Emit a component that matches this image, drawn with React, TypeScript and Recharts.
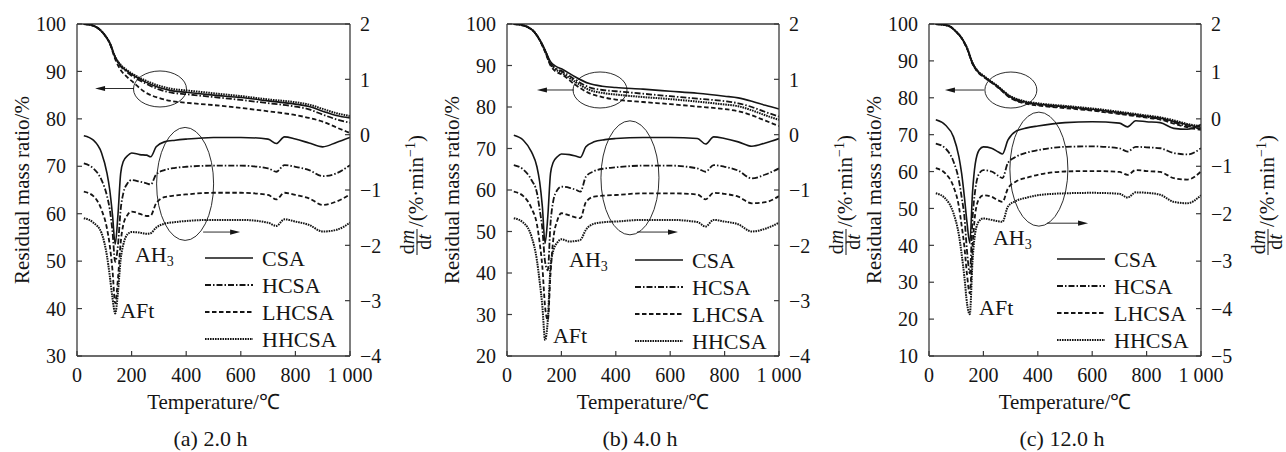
import React from 'react';
import { LineChart, Line, XAxis, YAxis, ReferenceDot, ReferenceLine, Legend, Label } from 'recharts';

const FONT = '"Liberation Serif", "Times New Roman", serif';
const INK = '#151515';
const AXIS = '#3a3a3a';

// ---------- shared ----------
const seriesNames = ['CSA', 'HCSA', 'LHCSA', 'HHCSA'];
const xTicks = [0, 200, 400, 600, 800, 1000];
const tgTemps = [25, 50, 75, 100, 120, 140, 160, 180, 200, 250, 300, 350, 400, 500, 600, 700, 800, 850, 900, 950, 1000];
const dtgTemps = [25, 60, 90, 110, 120, 130, 140, 150, 160, 170, 185, 200, 230, 255, 270, 290, 320, 360, 400, 500, 600, 700, 730, 760, 800, 850, 900, 950, 1000];

// ---------- panel (a) 2.0 h ----------
const aLeftTicks = [30, 40, 50, 60, 70, 80, 90, 100];
const aRightTicks = [-4, -3, -2, -1, 0, 1, 2];
const aTgCSA = [100, 99.8, 99.2, 97.8, 96.0, 93.0, 91.2, 90.2, 89.4, 87.8, 86.6, 85.9, 85.6, 85.0, 84.5, 83.8, 83.1, 82.6, 81.6, 80.7, 80.2];
const aTgHCSA = [100, 99.8, 99.2, 97.8, 96.0, 93.0, 91.1, 90.0, 89.1, 87.5, 86.2, 85.5, 85.2, 84.6, 84.0, 83.3, 82.6, 82.0, 80.9, 79.9, 79.2];
const aTgLHCSA = [100, 99.8, 99.2, 97.8, 95.9, 92.6, 90.3, 89.0, 88.0, 85.6, 84.4, 83.7, 83.4, 82.9, 82.3, 81.6, 80.8, 80.2, 79.4, 78.2, 77.0];
const aTgHHCSA = [100, 99.8, 99.2, 97.8, 96.0, 93.0, 91.4, 90.4, 89.6, 88.1, 87.0, 86.3, 86.0, 85.4, 84.8, 84.1, 83.5, 83.0, 82.1, 81.2, 80.6];
const aDtgCSA = [-0.02, -0.10, -0.33, -0.70, -1.00, -1.45, -1.98, -1.45, -0.70, -0.48, -0.38, -0.33, -0.36, -0.37, -0.40, -0.22, -0.13, -0.10, -0.08, -0.05, -0.05, -0.08, -0.16, -0.04, -0.08, -0.15, -0.22, -0.14, -0.05];
const aDtgHCSA = [-0.52, -0.61, -0.82, -1.11, -1.35, -1.75, -2.30, -2.00, -1.35, -1.05, -0.88, -0.82, -0.85, -0.88, -0.90, -0.72, -0.64, -0.60, -0.58, -0.56, -0.56, -0.61, -0.67, -0.55, -0.58, -0.64, -0.75, -0.70, -0.55];
const aDtgLHCSA = [-1.03, -1.11, -1.36, -1.70, -2.00, -2.45, -3.05, -2.60, -1.95, -1.62, -1.45, -1.39, -1.43, -1.47, -1.46, -1.24, -1.13, -1.10, -1.08, -1.05, -1.05, -1.09, -1.17, -1.05, -1.09, -1.15, -1.27, -1.21, -1.08];
const aDtgHHCSA = [-1.51, -1.59, -1.78, -2.20, -2.55, -2.95, -3.23, -2.85, -2.25, -1.98, -1.80, -1.76, -1.77, -1.79, -1.78, -1.68, -1.61, -1.58, -1.56, -1.54, -1.54, -1.59, -1.65, -1.53, -1.57, -1.63, -1.75, -1.72, -1.59];

// ---------- panel (b) 4.0 h ----------
const bLeftTicks = [20, 30, 40, 50, 60, 70, 80, 90, 100];
const bRightTicks = [-4, -3, -2, -1, 0, 1, 2];
const bTgCSA = [100, 99.8, 99.3, 98.1, 96.2, 93.7, 90.9, 89.8, 89.2, 87.3, 85.7, 85.0, 84.7, 84.3, 83.8, 83.3, 82.6, 82.2, 81.4, 80.4, 79.5];
const bTgHCSA = [100, 99.8, 99.3, 98.1, 96.2, 93.6, 90.6, 89.3, 88.7, 86.6, 84.8, 84.1, 83.8, 83.2, 82.6, 82.0, 81.4, 80.9, 80.0, 78.8, 77.7];
const bTgLHCSA = [100, 99.8, 99.3, 98.1, 96.1, 93.3, 90.0, 88.5, 87.9, 85.4, 83.4, 82.4, 81.8, 81.2, 80.7, 80.1, 79.5, 79.0, 78.0, 76.7, 75.4];
const bTgHHCSA = [100, 99.8, 99.3, 98.1, 96.2, 93.5, 90.3, 89.0, 88.3, 86.1, 84.2, 83.4, 83.0, 82.4, 81.9, 81.3, 80.6, 80.2, 79.2, 78.0, 76.9];
const bDtgCSA = [-0.01, -0.10, -0.31, -0.58, -0.85, -1.30, -1.96, -1.48, -0.70, -0.50, -0.40, -0.35, -0.36, -0.39, -0.41, -0.22, -0.13, -0.09, -0.07, -0.05, -0.05, -0.07, -0.17, -0.04, -0.07, -0.13, -0.21, -0.15, -0.07];
const bDtgHCSA = [-0.55, -0.63, -0.82, -1.05, -1.35, -1.70, -2.30, -2.45, -1.60, -1.20, -1.00, -0.94, -0.96, -1.00, -1.03, -0.76, -0.66, -0.61, -0.59, -0.56, -0.56, -0.61, -0.67, -0.55, -0.58, -0.65, -0.79, -0.72, -0.61];
const bDtgLHCSA = [-1.03, -1.11, -1.33, -1.62, -1.95, -2.39, -3.11, -3.35, -2.51, -1.90, -1.55, -1.42, -1.46, -1.50, -1.51, -1.22, -1.12, -1.10, -1.09, -1.06, -1.06, -1.08, -1.17, -1.05, -1.07, -1.12, -1.24, -1.22, -1.11];
const bDtgHHCSA = [-1.51, -1.59, -1.84, -2.27, -2.65, -3.10, -3.71, -3.35, -2.39, -2.10, -1.95, -1.89, -1.93, -1.92, -1.90, -1.72, -1.61, -1.58, -1.57, -1.54, -1.54, -1.58, -1.66, -1.54, -1.57, -1.62, -1.75, -1.70, -1.59];

// ---------- panel (c) 12.0 h ----------
const cLeftTicks = [10, 20, 30, 40, 50, 60, 70, 80, 90, 100];
const cRightTicks = [-5, -4, -3, -2, -1, 0, 1, 2];
const cTgCSA = [100, 99.8, 99.4, 97.9, 96.2, 93.5, 89.4, 87.1, 85.9, 83.2, 80.2, 78.9, 78.3, 77.6, 76.9, 76.0, 75.0, 74.5, 73.6, 72.7, 72.0];
const cTgHCSA = [100, 99.8, 99.4, 97.9, 96.2, 93.4, 89.3, 87.0, 85.8, 83.1, 80.0, 78.7, 78.1, 77.4, 76.7, 75.8, 74.8, 74.3, 73.3, 72.3, 71.6];
const cTgLHCSA = [100, 99.8, 99.4, 97.9, 96.1, 93.3, 89.2, 86.9, 85.7, 83.0, 79.9, 78.5, 77.9, 77.2, 76.5, 75.6, 74.6, 74.1, 73.0, 72.0, 71.3];
const cTgHHCSA = [100, 99.8, 99.4, 97.9, 96.2, 93.5, 89.5, 87.2, 86.0, 83.3, 80.4, 79.1, 78.5, 77.8, 77.1, 76.2, 75.2, 74.7, 73.9, 72.9, 72.3];
const cDtgCSA = [-0.02, -0.13, -0.38, -0.80, -1.15, -1.64, -2.20, -2.62, -1.55, -0.95, -0.65, -0.59, -0.62, -0.70, -0.74, -0.45, -0.26, -0.19, -0.15, -0.08, -0.06, -0.09, -0.17, -0.04, -0.06, -0.08, -0.20, -0.22, -0.12];
const cDtgHCSA = [-0.52, -0.62, -0.90, -1.30, -1.65, -2.06, -2.80, -3.26, -2.10, -1.50, -1.15, -1.08, -1.11, -1.20, -1.25, -0.93, -0.80, -0.71, -0.66, -0.59, -0.58, -0.62, -0.69, -0.59, -0.60, -0.62, -0.72, -0.75, -0.62];
const cDtgLHCSA = [-1.04, -1.15, -1.43, -1.85, -2.25, -2.69, -3.30, -3.68, -2.70, -2.00, -1.68, -1.61, -1.64, -1.72, -1.75, -1.47, -1.32, -1.24, -1.18, -1.11, -1.10, -1.12, -1.18, -1.08, -1.10, -1.12, -1.25, -1.28, -1.11];
const cDtgHHCSA = [-1.57, -1.68, -1.99, -2.45, -2.85, -3.33, -3.90, -4.12, -3.00, -2.40, -2.15, -2.10, -2.13, -2.16, -2.17, -1.85, -1.73, -1.66, -1.61, -1.57, -1.56, -1.58, -1.66, -1.55, -1.56, -1.60, -1.75, -1.78, -1.61];

// ---------- styles ----------
const dashes: Record<string, string | undefined> = {
  CSA: undefined,
  HCSA: '6 2 1.5 2',
  LHCSA: '4.5 2.5',
  HHCSA: '1.6 0.9',
};
const widths: Record<string, number> = { CSA: 1.6, HCSA: 1.8, LHCSA: 1.8, HHCSA: 2 };

const toPoints = (xs: number[], ys: number[]) => xs.map((t, i) => ({ t, v: ys[i] }));
const fmt = (v: number) => (v === 1000 ? '1 000' : v < 0 ? '\u2212' + Math.abs(v) : String(v));

// ---------- ticks ----------
const LeftTick = (p: any) => (
  <g>
    <line x1={p.x} x2={p.x + 5} y1={p.y} y2={p.y} stroke={AXIS} strokeWidth={1.2} />
    <text x={p.x - 11} y={p.y} dy="0.36em" textAnchor="end" fontSize={20} fontFamily={FONT} fill={INK}>
      {fmt(p.payload.value)}
    </text>
  </g>
);
const RightTick = (p: any) => (
  <g>
    <line x1={p.x - 5} x2={p.x} y1={p.y} y2={p.y} stroke={AXIS} strokeWidth={1.2} />
    <text x={p.x + 10} y={p.y} dy="0.36em" textAnchor="start" fontSize={20} fontFamily={FONT} fill={INK}>
      {fmt(p.payload.value)}
    </text>
  </g>
);
const BottomTick = (p: any) => (
  <g>
    <line x1={p.x} x2={p.x} y1={p.y - 5} y2={p.y} stroke={AXIS} strokeWidth={1.2} />
    <text x={p.x} y={p.y + 26} textAnchor="middle" fontSize={20} fontFamily={FONT} fill={INK}>
      {fmt(p.payload.value)}
    </text>
  </g>
);

// ---------- annotation shapes ----------
const ellipseShape = (rx: number, ry: number) => (p: any) => (
  <ellipse cx={p.cx} cy={p.cy} rx={rx} ry={ry} fill="none" stroke={INK} strokeWidth={0.9} />
);
const arrowShape = (len: number, dir: number) => (p: any) => {
  const x2 = p.cx + dir * len;
  return (
    <g>
      <line x1={p.cx} y1={p.cy} x2={x2 - dir * 7} y2={p.cy} stroke={INK} strokeWidth={0.9} />
      <polygon points={`${x2},${p.cy} ${x2 - dir * 10},${p.cy - 2.6} ${x2 - dir * 10},${p.cy + 2.6}`} fill={INK} />
    </g>
  );
};
const ah3Shape = (p: any) => (
  <text x={p.cx} y={p.cy} fontSize={22} fontFamily={FONT} fill={INK}>
    AH<tspan fontSize={14} dy={4}>3</tspan>
  </text>
);
const aftShape = (p: any) => (
  <text x={p.cx} y={p.cy} fontSize={22} fontFamily={FONT} fill={INK}>AFt</text>
);

const LegendBox = () => (
  <svg width={150} height={112} style={{ display: 'block', overflow: 'visible' }}>
    {seriesNames.map((n, i) => (
      <g key={n}>
        <line x1={0} x2={48} y1={13 + 27 * i} y2={13 + 27 * i} stroke={INK} strokeWidth={widths[n]} strokeDasharray={dashes[n]} />
        <text x={57} y={13 + 27 * i} dy="0.36em" fontSize={22} fontFamily={FONT} fill={INK}>{n}</text>
      </g>
    ))}
  </svg>
);

// ---------- panels ----------
const panels = [
  {
    key: 'a', left: 0, width: 450, plotLeft: 77, plotRight: 350,
    leftDomain: [30, 100], leftTicks: aLeftTicks, rightDomain: [-4, 2], rightTicks: aRightTicks,
    tg: [aTgCSA, aTgHCSA, aTgLHCSA, aTgHHCSA], dtg: [aDtgCSA, aDtgHCSA, aDtgLHCSA, aDtgHHCSA],
    caption: '(a) 2.0 h', legendLeft: 205, legendTop: 245,
    ell1: [304, 86.3, 26.5, 18], arrL: [209, 86.4, 39], ell2: [396, -0.89, 28.5, 56.5], arrR: [462, -1.76, 37],
    ah3: [212, 49.8], aft: [158, 38.0],
  },
  {
    key: 'b', left: 430, width: 450, plotLeft: 77, plotRight: 349,
    leftDomain: [20, 100], leftTicks: bLeftTicks, rightDomain: [-4, 2], rightTicks: bRightTicks,
    tg: [bTgCSA, bTgHCSA, bTgLHCSA, bTgHHCSA], dtg: [bDtgCSA, bDtgHCSA, bDtgLHCSA, bDtgHHCSA],
    caption: '(b) 4.0 h', legendLeft: 205, legendTop: 247,
    ell1: [342, 84.1, 27, 18], arrL: [246, 84.1, 37], ell2: [452, -0.78, 29, 57], arrR: [478, -1.76, 41],
    ah3: [228, 41.4], aft: [169, 23.1],
  },
  {
    key: 'c', left: 860, width: 426, plotLeft: 69, plotRight: 341,
    leftDomain: [10, 100], leftTicks: cLeftTicks, rightDomain: [-5, 2], rightTicks: cRightTicks,
    tg: [cTgCSA, cTgHCSA, cTgLHCSA, cTgHHCSA], dtg: [cDtgCSA, cDtgHCSA, cDtgLHCSA, cDtgHHCSA],
    caption: '(c) 12.0 h', legendLeft: 197, legendTop: 246,
    ell1: [301, 82.1, 26, 18], arrL: [202, 82.1, 39], ell2: [404, -1.06, 29, 57], arrR: [434, -2.2, 41],
    ah3: [235, 40.1], aft: [184, 21.1],
  },
];

const HEIGHT = 452;
const TOP = 24;
const BOTTOM_EDGE = 356;
const XAXIS_H = 30;

const XTitle = (caption: string) => (props: any) => {
  const vb = props.viewBox;
  const cx = vb.x + vb.width / 2;
  return (
    <g>
      <text x={cx} y={vb.y + 53} textAnchor="middle" fontSize={21} fontFamily={FONT} fill={INK}>Temperature/℃</text>
      <text x={cx - 3} y={vb.y + 90} textAnchor="middle" fontSize={22} fontFamily={FONT} fill={INK}>{caption}</text>
    </g>
  );
};

const LeftTitle = (props: any) => {
  const vb = props.viewBox;
  const x = vb.x + vb.width - 55;
  const y = vb.y + vb.height / 2;
  return (
    <text x={x} y={y} transform={`rotate(-90 ${x} ${y})`} textAnchor="middle" dy="0.35em" fontSize={21} fontFamily={FONT} fill={INK}>
      Residual mass ratio/%
    </text>
  );
};

const RightTitle = (props: any) => {
  const vb = props.viewBox;
  const x = vb.x + 67;
  const y = vb.y + vb.height / 2;
  return (
    <g transform={`translate(${x} ${y}) rotate(-90)`} fontFamily={FONT} fill={INK}>
      <text x={-52} y={-3} textAnchor="middle" fontSize={20}>
        d<tspan fontStyle="italic">m</tspan>
      </text>
      <line x1={-65} x2={-39} y1={0} y2={0} stroke={INK} strokeWidth={1} />
      <text x={-52} y={14} textAnchor="middle" fontSize={20}>
        d<tspan fontStyle="italic">t</tspan>
      </text>
      <text x={-37} y={6} textAnchor="start" fontSize={21}>
        /(%·min<tspan fontSize={14} dy={-8}>−1</tspan><tspan dy={8}>)</tspan>
      </text>
    </g>
  );
};

const Panel = ({ p }: { p: any }) => {
  const bottomMargin = HEIGHT - BOTTOM_EDGE - XAXIS_H;
  return (
    <div style={{ position: 'absolute', left: p.left, top: 0 }}>
      <LineChart width={p.width} height={HEIGHT} margin={{ top: TOP, right: 0, bottom: bottomMargin, left: 0 }}>
        <XAxis
          dataKey="t" type="number" domain={[0, 1000]} ticks={xTicks} interval={0} allowDataOverflow
          tick={<BottomTick />} tickLine={false} tickSize={0} tickMargin={0} height={XAXIS_H}
          axisLine={{ stroke: AXIS, strokeWidth: 1.3 }}
          label={<Label content={XTitle(p.caption)} />}
        />
        <YAxis
          yAxisId="left" orientation="left" type="number" width={p.plotLeft} domain={p.leftDomain} ticks={p.leftTicks}
          interval={0} allowDataOverflow tick={<LeftTick />} tickLine={false} tickSize={0} tickMargin={0}
          axisLine={{ stroke: AXIS, strokeWidth: 1.3 }}
          label={<Label content={LeftTitle} />}
        />
        <YAxis
          yAxisId="right" orientation="right" type="number" width={p.width - p.plotRight} domain={p.rightDomain} ticks={p.rightTicks}
          interval={0} allowDataOverflow tick={<RightTick />} tickLine={false} tickSize={0} tickMargin={0}
          axisLine={{ stroke: AXIS, strokeWidth: 1.3 }}
          label={<Label content={RightTitle} />}
        />
        <ReferenceLine yAxisId="left" y={100} stroke={AXIS} strokeWidth={1.3} />
        {seriesNames.map((n, i) => (
          <Line
            key={'tg' + n} yAxisId="left" data={toPoints(tgTemps, p.tg[i])} dataKey="v" type="monotone"
            stroke={INK} strokeWidth={widths[n]} strokeDasharray={dashes[n]} dot={false} activeDot={false}
            isAnimationActive={false} legendType="none" name={n + ' TG'}
          />
        ))}
        {seriesNames.map((n, i) => (
          <Line
            key={'dtg' + n} yAxisId="right" data={toPoints(dtgTemps, p.dtg[i])} dataKey="v" type="monotone"
            stroke={INK} strokeWidth={widths[n]} strokeDasharray={dashes[n]} dot={false} activeDot={false}
            isAnimationActive={false} name={n}
          />
        ))}
        <ReferenceDot yAxisId="left" x={p.ell1[0]} y={p.ell1[1]} ifOverflow="visible" shape={ellipseShape(p.ell1[2], p.ell1[3])} />
        <ReferenceDot yAxisId="left" x={p.arrL[0]} y={p.arrL[1]} ifOverflow="visible" shape={arrowShape(p.arrL[2], -1)} />
        <ReferenceDot yAxisId="right" x={p.ell2[0]} y={p.ell2[1]} ifOverflow="visible" shape={ellipseShape(p.ell2[2], p.ell2[3])} />
        <ReferenceDot yAxisId="right" x={p.arrR[0]} y={p.arrR[1]} ifOverflow="visible" shape={arrowShape(p.arrR[2], 1)} />
        <ReferenceDot yAxisId="left" x={p.ah3[0]} y={p.ah3[1]} ifOverflow="visible" shape={ah3Shape} />
        <ReferenceDot yAxisId="left" x={p.aft[0]} y={p.aft[1]} ifOverflow="visible" shape={aftShape} />
        <Legend
          layout="vertical" align="center" verticalAlign="middle"
          content={() => <LegendBox />}
          wrapperStyle={{ left: p.legendLeft, top: p.legendTop, width: 150, height: 112, right: 'auto', bottom: 'auto' }}
        />
      </LineChart>
    </div>
  );
};

export default function App() {
  return (
    <div style={{ position: 'absolute', left: 0, top: 0, width: 1286, height: 452, background: '#fff', overflow: 'hidden' }}>
      {panels.map((p) => (
        <Panel key={p.key} p={p} />
      ))}
    </div>
  );
}
